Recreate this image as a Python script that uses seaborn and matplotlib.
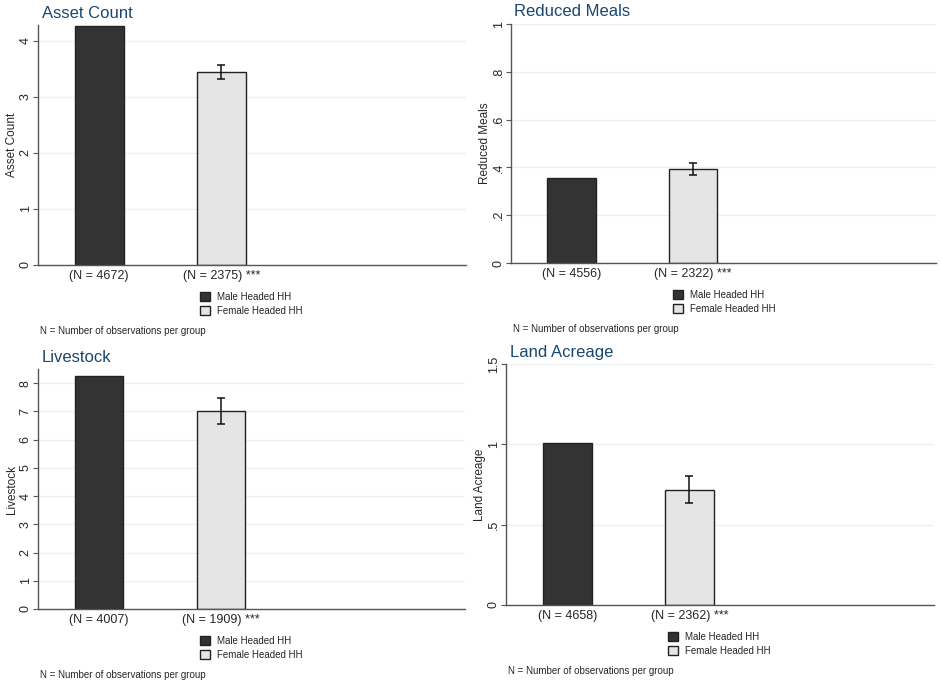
import pandas as pd
import matplotlib.pyplot as plt
import seaborn as sns

# valores
titulos = ['Asset Count', 'Reduced Meals', 'Livestock', 'Land Acreage']
grupos = ['Male Headed HH', 'Female Headed HH']
media_hombre = [4.27, 0.356, 8.26, 1.01]
media_mujer = [3.45, 0.393, 7.00, 0.718]
ic_bajo_mujer = [3.32, 0.368, 6.55, 0.636]
ic_alto_mujer = [3.57, 0.419, 7.46, 0.806]
n_hombre = [4672, 4556, 4007, 4658]
n_mujer = [2375, 2322, 1909, 2362]
estrellas = ['***', '***', '***', '***']
y_ticks = [[0, 1, 2, 3, 4], [0, .2, .4, .6, .8, 1], [0, 1, 2, 3, 4, 5, 6, 7, 8], [0, .5, 1, 1.5]]
y_tick_labels = [['0', '1', '2', '3', '4'], ['0', '.2', '.4', '.6', '.8', '1'],
                 ['0', '1', '2', '3', '4', '5', '6', '7', '8'], ['0', '.5', '1', '1.5']]
y_max = [4.28, 1, 8.5, 1.5]

colores = {'Male Headed HH': '#333333', 'Female Headed HH': '#e5e5e5'}
azul_titulo = '#1a476f'
gris_eje = '#555555'

sns.set_style('white')
plt.rcParams['font.family'] = ['Liberation Sans', 'DejaVu Sans']

W, H = 940, 686
fig = plt.figure(figsize=(W / 100, H / 100), dpi=100)

# region de cada panel en pixeles: izquierda, arriba, derecha, abajo
cajas = [(38, 25, 466, 265), (511, 24, 936, 263), (38, 369, 465, 609), (506, 364, 934, 605)]

for i in range(4):
    izq, arr, der, aba = cajas[i]
    ax = fig.add_axes([izq / W, 1 - aba / H, (der - izq) / W, (aba - arr) / H])
    df = pd.DataFrame({
        'grupo': [f'(N = {n_hombre[i]})', f'(N = {n_mujer[i]}) {estrellas[i]}'],
        'hh': grupos,
        'valor': [media_hombre[i], media_mujer[i]],
    })
    sns.barplot(data=df, x='grupo', y='valor', hue='hh', palette=colores, width=0.4,
                edgecolor='#222222', linewidth=1, errorbar=None, ax=ax)
    ax.errorbar(x=1, y=media_mujer[i],
                yerr=[[media_mujer[i] - ic_bajo_mujer[i]], [ic_alto_mujer[i] - media_mujer[i]]],
                fmt='none', ecolor='#111111', elinewidth=1.1, capsize=2.6, capthick=1.1)

    ax.set_xlim(-0.5, 3.0)
    ax.set_ylim(0, y_max[i])
    ax.set_yticks(y_ticks[i])
    ax.set_yticklabels(y_tick_labels[i], rotation=90, va='center')
    ax.tick_params(axis='y', left=True, length=3.6, width=0.8, color=gris_eje, pad=1, labelsize=9)
    ax.tick_params(axis='x', length=0, pad=3.5, labelsize=9)
    ax.set_xlabel('')
    ax.set_ylabel(titulos[i], fontsize=8.5)
    ax.yaxis.set_label_coords(-26 / (der - izq), 0.5)
    ax.yaxis.label.set_verticalalignment('center')
    ax.yaxis.grid(True, color='#ecf2f4', lw=1)
    ax.set_axisbelow(True)
    sns.despine(ax=ax)
    for s in ['left', 'bottom']:
        ax.spines[s].set_color(gris_eje)
        ax.spines[s].set_linewidth(1)

    sns.move_legend(ax, 'upper left', bbox_to_anchor=((izq + 162) / W, 1 - (aba + 26.5) / H),
                    bbox_transform=fig.transFigure, frameon=False, title=None, fontsize=7,
                    handlelength=1, handleheight=1, handletextpad=0.7, labelspacing=0.45,
                    borderpad=0, borderaxespad=0)

    fig.text((izq + 3.5) / W, 1 - (arr - 12) / H, titulos[i], color=azul_titulo,
             fontsize=12, ha='left', va='center')
    fig.text((izq + 2) / W, 1 - (aba + 66) / H, 'N = Number of observations per group',
             fontsize=7, ha='left', va='center')

plt.savefig('out.png', dpi=100)
